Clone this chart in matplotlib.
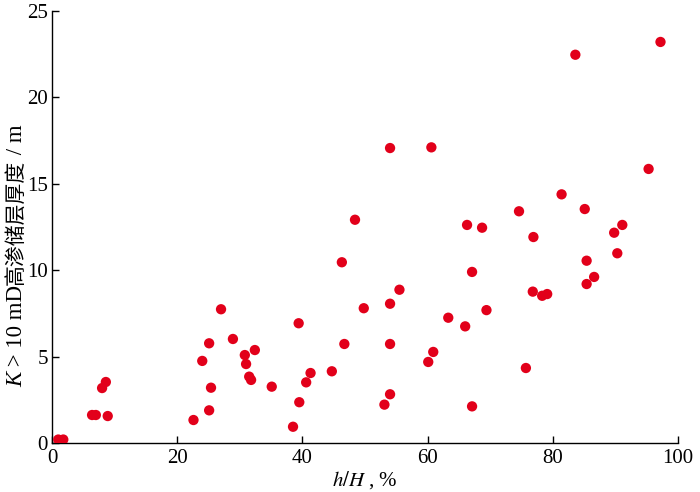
import matplotlib
matplotlib.use("Agg")
import matplotlib.pyplot as plt

plt.rcParams['font.family'] = ['Liberation Serif', 'Noto Sans CJK SC', 'DejaVu Sans']
plt.rcParams['mathtext.fontset'] = 'stix'

# h/H (%) and thickness of K>10 mD layers (m)
hH = [1.0, 1.8, 6.4, 7.0, 8.9, 8.0, 8.6, 22.6, 25.1, 25.4, 24.0, 25.1,
      27.0, 28.9, 30.8, 31.0, 31.5, 31.8, 32.4, 35.1, 38.5, 39.4, 39.5,
      40.6, 41.3, 44.7, 46.3, 46.7, 48.4, 49.8, 53.1, 54.0, 54.0, 54.0,
      54.0, 55.5, 60.1, 60.6, 60.9, 63.3, 66.0, 66.3, 67.1, 67.1, 68.7,
      69.4, 74.6, 75.7, 76.9, 76.8, 78.3, 79.1, 81.4, 83.6, 85.1, 85.4,
      85.4, 86.6, 89.8, 90.3, 91.1, 95.3, 97.2]
thick = [0.2, 0.2, 1.62, 1.62, 1.56, 3.18, 3.53, 1.33, 1.89, 3.2, 4.75, 5.77,
         7.74, 6.02, 5.09, 4.57, 3.84, 3.65, 5.38, 3.26, 0.94, 6.93, 2.36,
         3.51, 4.05, 4.15, 10.46, 5.73, 12.92, 7.8, 2.22, 17.07, 8.06, 5.73,
         2.82, 8.87, 4.69, 17.11, 5.27, 7.25, 6.75, 12.62, 9.9, 2.12, 12.46,
         7.69, 13.41, 4.34, 11.92, 8.76, 8.52, 8.62, 14.39, 22.47, 13.54, 10.55,
         9.2, 9.61, 12.17, 10.98, 12.62, 15.86, 23.21]

fig = plt.figure(figsize=(7, 4.92), dpi=100)
ax = fig.add_axes([0.0743, 0.0996, 0.8943, 0.878])

ax.scatter(hH, thick, s=55, c='#e2001a', edgecolors='none', zorder=3)

ax.set_xlim(0, 100)
ax.set_ylim(0, 25)
ax.set_xticks([0, 20, 40, 60, 80, 100])
ax.set_yticks([0, 5, 10, 15, 20, 25])

for side in ['top', 'right']:
    ax.spines[side].set_visible(False)
for side in ['left', 'bottom']:
    ax.spines[side].set_linewidth(1.0)

ax.tick_params(direction='in', length=5, width=1, labelsize=15, pad=4)
ax.tick_params(axis='y', pad=3)

ax.set_xlabel(r'$h/H$ , %', fontsize=15, labelpad=1)

# y label built from pieces (mathtext can't fall back to CJK glyphs)
pieces = [('K', dict(style='italic', family='Liberation Serif', fontsize=16.5)),
          (' > 10 mD', dict(family='Liberation Serif', fontsize=16.5)),
          ('高渗储层厚度', dict(family='Noto Sans CJK SC', fontsize=15)),
          (' / m', dict(family='Liberation Serif', fontsize=16.5))]
y = (492 - 387) / 492
xb = 22 / 700
fig.canvas.draw()
for s, kw in pieces:
    t = fig.text(xb, y, s, rotation=90, rotation_mode='anchor', ha='left',
                 va='baseline', **kw)
    bb = t.get_window_extent(renderer=fig.canvas.get_renderer())
    y += bb.height / fig.bbox.height

plt.savefig('out.png', dpi=100)
